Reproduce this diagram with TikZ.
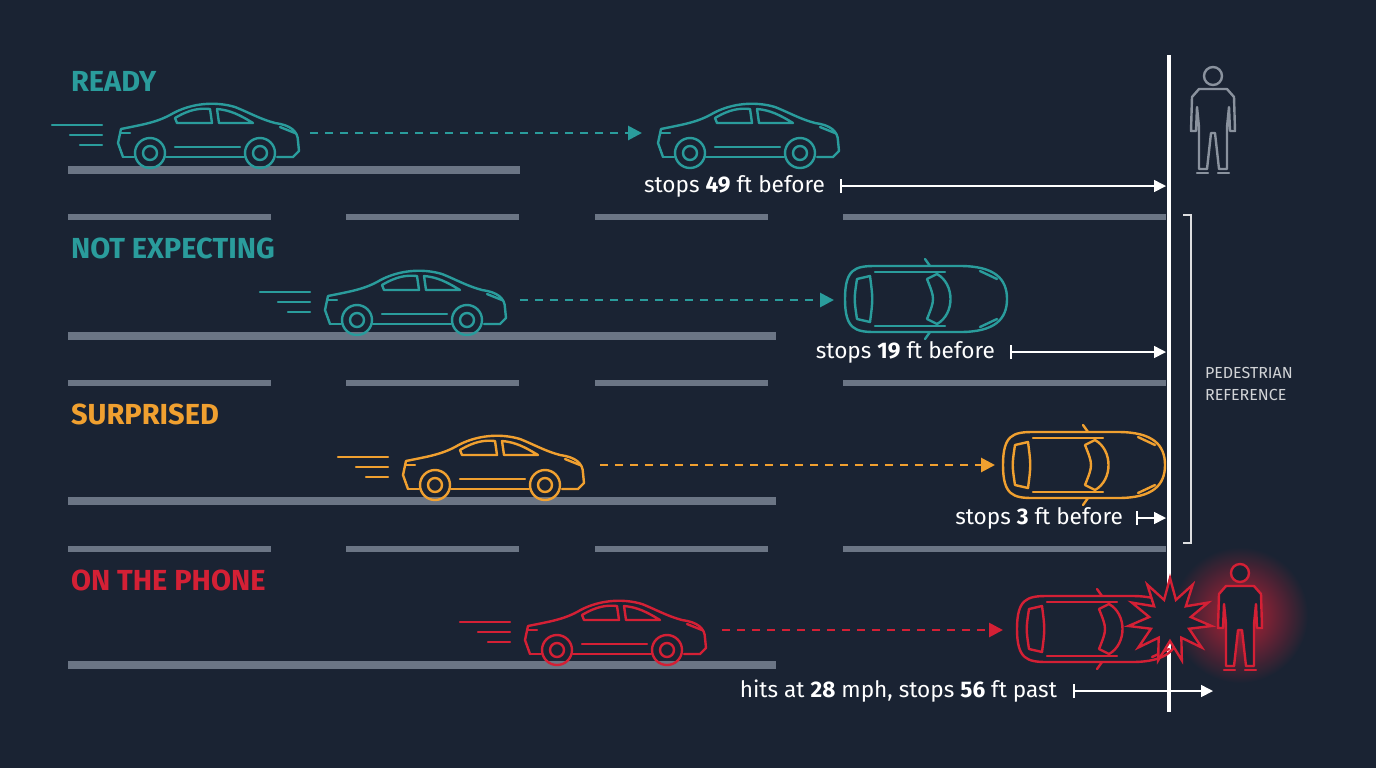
\documentclass[tikz,border=0pt]{standalone}
\usepackage{fontspec}
\setmainfont{Fira Sans}
\usetikzlibrary{arrows.meta,shapes.geometric}
\definecolor{bg}{HTML}{1A2333}
\definecolor{teal}{HTML}{2A9C9C}
\definecolor{orng}{HTML}{F0A030}
\definecolor{redc}{HTML}{D42035}
\definecolor{road}{HTML}{6B7585}
\definecolor{pgray}{HTML}{8A929E}
\begin{document}
\begin{tikzpicture}[x=0.5pt,y=-0.5pt,
  roadline/.style={road,line width=4pt},
  laneline/.style={road,line width=3pt},
  carline/.style={line width=1.2pt,line join=round,line cap=round},
  trail/.style={line width=1.4pt,dash pattern=on 4pt off 3.5pt},
  label/.style={font=\bfseries\fontsize{14.5}{14.5}\selectfont,anchor=west},
  meas/.style={font=\fontsize{11.3}{11.3}\selectfont,text=white,anchor=east},
  measarrow/.style={white,line width=0.8pt,{Bar[width=7pt]}-{Triangle[length=6pt,width=6pt]}},
  sidecar/.pic={
    \draw[carline] (8,-6) -- (3,-20) -- (6,-34) .. controls (25,-38) and (40,-40) .. (55,-48)
      .. controls (75,-60) and (100,-62) .. (120,-56) .. controls (135,-50) and (145,-44) .. (160,-40)
      .. controls (175,-38) and (183,-32) .. (183,-22) -- (184,-12) -- (178,-6) -- (162,-6);
    \draw[carline] (8,-6) -- (19,-6);
    \draw[carline] (51,-6) -- (129,-6);
    \draw[carline] (35,-10) circle (15) (35,-10) circle (7);
    \draw[carline] (145,-10) circle (15) (145,-10) circle (7);
    \draw[carline] (60,-45) .. controls (75,-54) and (85,-55) .. (95,-54) -- (97,-40) -- (62,-40) -- cycle;
    \draw[carline] (102,-54) .. controls (115,-53) and (125,-48) .. (138,-40) -- (104,-40) -- cycle;
    \draw[carline] (60,-16) -- (125,-16);
    \draw[carline] (5,-30) -- (15,-30);
    \draw[carline] (165,-36) -- (180,-30);
  },
  speed/.pic={
    \draw[carline] (0,-38) -- (50,-38) (18,-28) -- (50,-28) (28,-18) -- (50,-18);
  },
  topcar/.pic={
    \draw[carline] (-80,0) .. controls (-80,-30) and (-70,-33) .. (-50,-33) -- (35,-33)
      .. controls (70,-33) and (82,-20) .. (82,0) .. controls (82,20) and (70,33) .. (35,33)
      -- (-50,33) .. controls (-70,33) and (-80,30) .. (-80,0) -- cycle;
    \draw[carline] (-68,-20) -- (-55,-23) .. controls (-52,0) .. (-55,23) -- (-68,20) .. controls (-71,0) .. (-68,-20) -- cycle;
    \draw[carline] (12,-25) .. controls (30,-15) and (30,15) .. (12,25) -- (2,20) .. controls (10,0) .. (2,-20) -- cycle;
    \draw[carline] (-50,-27) -- (20,-27) (-50,27) -- (20,27);
    \draw[carline] (5,-33) -- (0,-40) (5,33) -- (0,40);
    \draw[carline] (55,-28) -- (72,-20) (55,28) -- (72,20);
  },
  person/.pic={
    \draw[carline,fill=bg] (0,-97) circle (9);
    \draw[carline,fill=bg] (-14,-84) -- (14,-84) -- (21,-76) -- (22,-42) -- (17,-42) -- (16,-66) -- (14,-46)
      -- (14,-4) -- (6,-4) -- (2,-40) -- (-2,-40) -- (-6,-4) -- (-14,-4) -- (-14,-46) -- (-16,-66)
      -- (-17,-42) -- (-22,-42) -- (-21,-76) -- cycle;
    \draw[carline] (-16,0) -- (-5,0) (5,0) -- (16,0);
  }]
\fill[bg] (0,0) rectangle (1376,768);
\useasboundingbox (0,0) rectangle (1376,768);

% roads
\foreach \y/\e in {170/520,336/776,501/776,665/776} \draw[roadline] (68,\y) -- (\e,\y);
\foreach \y in {217,383,549} {
  \draw[laneline] (68,\y) -- (271,\y);
  \draw[laneline] (346,\y) -- (519,\y);
  \draw[laneline] (595,\y) -- (768,\y);
  \draw[laneline] (843,\y) -- (1166,\y);
}

% glow
\shade[inner color=redc!85!bg, outer color=bg] (1240,615) circle (68);

% reference line
\draw[white,line width=2.2pt] (1169,55) -- (1169,712);

% row 1
\node[label,text=teal] (l1) at (64,81) {READY};
\pic[teal] at (52,163) {speed};
\pic[teal] at (115,163) {sidecar};
\pic[teal] at (655,163) {sidecar};
\coordinate (d1a) at (310,133); \coordinate (d1b) at (642,133);
\draw[teal,trail,-{Triangle[length=7pt,width=7pt]}] (d1a) -- (d1b);
\node[meas] (m1) at (832,186) {stops \textbf{49} ft before};
\coordinate (a1a) at (840,186); \coordinate (a1b) at (1166,186);
\draw[measarrow] (a1a) -- (a1b);
\pic[pgray] at (1213,173) {person};

% row 2
\node[label,text=teal] (l2) at (64,248) {NOT EXPECTING};
\pic[teal] at (260,330) {speed};
\pic[teal] at (322,330) {sidecar};
\coordinate (d2a) at (520,300); \coordinate (d2b) at (834,300);
\draw[teal,trail,-{Triangle[length=7pt,width=7pt]}] (d2a) -- (d2b);
\pic[teal] at (925,299) {topcar};
\node[meas] (m2) at (1002,352) {stops \textbf{19} ft before};
\coordinate (a2a) at (1010,352); \coordinate (a2b) at (1166,352);
\draw[measarrow] (a2a) -- (a2b);

% row 3
\node[label,text=orng] (l3) at (64,414) {SURPRISED};
\pic[orng] at (338,495) {speed};
\pic[orng] at (400,495) {sidecar};
\coordinate (d3a) at (600,465); \coordinate (d3b) at (995,465);
\draw[orng,trail,-{Triangle[length=7pt,width=7pt]}] (d3a) -- (d3b);
\pic[orng] at (1083,465) {topcar};
\node[meas] (m3) at (1130,518) {stops \textbf{3} ft before};
\coordinate (a3a) at (1136,518); \coordinate (a3b) at (1166,518);
\draw[measarrow] (a3a) -- (a3b);

% row 4
\node[label,text=redc] (l4) at (64,580) {ON THE PHONE};
\pic[redc] at (460,660) {speed};
\pic[redc] at (522,660) {sidecar};
\coordinate (d4a) at (722,630); \coordinate (d4b) at (1003,630);
\draw[redc,trail,-{Triangle[length=7pt,width=7pt]}] (d4a) -- (d4b);
\pic[redc] at (1097,629) {topcar};
\node[star,star points=11,star point ratio=2.0,minimum size=84*0.5pt,draw=redc,fill=bg,line width=1.2pt,inner sep=0pt] (burst) at (1170,620) {};
\pic[redc] at (1240,670) {person};
\node[meas] (m4) at (1064,691) {hits at \textbf{28} mph, stops \textbf{56} ft past};
\coordinate (a4a) at (1073,691); \coordinate (a4b) at (1213,691);
\draw[measarrow] (a4a) -- (a4b);

% bracket
\draw[white!85!bg,line width=0.8pt] (1183,215) -- (1191,215) -- (1191,543) -- (1183,543);
\node[anchor=west,align=left,text=white!80!bg,font=\fontsize{8}{11}\selectfont] (ped) at (1198,384) {PEDESTRIAN\\REFERENCE};
\end{tikzpicture}
\end{document}
